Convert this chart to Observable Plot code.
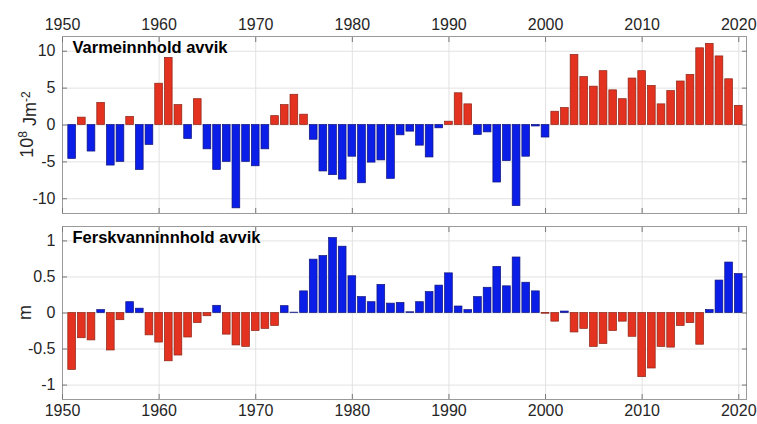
<!DOCTYPE html>
<html><head><meta charset="utf-8">
<script src="https://cdn.jsdelivr.net/npm/d3@7"></script>
<script src="https://cdn.jsdelivr.net/npm/@observablehq/plot@0.6"></script>
<style>body{margin:0;background:#fff;} #chart svg{display:block;}</style>
</head><body><div id="chart"></div>
<script>
const years = [
1951,1952,1953,1954,1955,1956,1957,1958,1959,1960,
1961,1962,1963,1964,1965,1966,1967,1968,1969,1970,
1971,1972,1973,1974,1975,1976,1977,1978,1979,1980,
1981,1982,1983,1984,1985,1986,1987,1988,1989,1990,
1991,1992,1993,1994,1995,1996,1997,1998,1999,2000,
2001,2002,2003,2004,2005,2006,2007,2008,2009,2010,
2011,2012,2013,2014,2015,2016,2017,2018,2019,2020];
const heatAnomaly = [
-4.6,1.0,-3.6,3.0,-5.5,-5.0,1.1,-6.1,-2.7,5.6,
9.1,2.7,-1.9,3.5,-3.3,-6.1,-5.0,-11.3,-5.0,-5.6,
-3.3,1.2,2.7,4.1,1.4,-2.0,-6.3,-6.8,-7.4,-4.3,
-7.9,-5.1,-4.8,-7.3,-1.4,-0.9,-2.8,-4.4,-0.45,0.45,
4.3,2.8,-1.35,-1.0,-7.8,-4.9,-11.0,-4.3,-0.2,-1.7,
1.8,2.3,9.5,6.5,5.2,7.3,4.7,3.5,6.3,7.3,
5.3,2.8,4.6,5.9,6.8,10.4,11.0,9.3,6.2,2.6];
const freshAnomaly = [
-0.79,-0.35,-0.38,0.04,-0.52,-0.10,0.15,0.06,-0.31,-0.41,
-0.67,-0.59,-0.34,-0.14,-0.045,0.10,-0.30,-0.45,-0.47,-0.25,
-0.22,-0.18,0.095,0.005,0.30,0.74,0.79,1.04,0.92,0.51,
0.22,0.15,0.39,0.13,0.14,0.01,0.15,0.29,0.38,0.55,
0.09,0.04,0.22,0.35,0.64,0.37,0.77,0.42,0.30,-0.01,
-0.12,0.02,-0.27,-0.22,-0.47,-0.43,-0.25,-0.12,-0.33,-0.89,
-0.77,-0.47,-0.48,-0.18,-0.14,-0.44,0.04,0.45,0.70,0.54];
const yearTicks = [1950,1960,1970,1980,1990,2000,2010,2020];
const heatTicks = [-10,-5,0,5,10];
const freshTicks = [-1,-0.5,0,0.5,1];
const heatTitle = "Varmeinnhold avvik";
const freshTitle = "Ferskvanninnhold avvik";

const RED = "#e3321f", RED_S = "#8c2417";
const BLUE = "#0a1ee8", BLUE_S = "#10137a";
const FONT = "'Liberation Sans', Arial, Helvetica, sans-serif";
const INK = "#262626";

function panel({values, yDomain, yTicks, title, posRed, height, marginTop, marginBottom, topLabels}) {
  const data = years.map((y, i) => ({year: y, value: values[i]}));
  const isRed = d => posRed ? d.value > 0 : d.value <= 0;
  return Plot.plot({
    width: 757, height, marginTop, marginBottom, marginLeft: 62, marginRight: 11,
    style: {fontFamily: FONT, fontSize: "16px", background: "white", color: INK},
    x: {domain: [1950, 2020.8]},
    y: {domain: yDomain},
    marks: [
      Plot.gridX(yearTicks, {stroke: "#e2e2e2", strokeOpacity: 1}),
      Plot.gridY(yTicks, {stroke: "#e2e2e2", strokeOpacity: 1}),
      Plot.rectY(data, {
        x1: d => d.year - 0.4, x2: d => d.year + 0.4, y: "value",
        fill: d => isRed(d) ? RED : BLUE,
        stroke: d => isRed(d) ? RED_S : BLUE_S,
        strokeWidth: 0.7
      }),
      Plot.frame({stroke: "#9a9a9a"}),
      Plot.axisX(yearTicks, {anchor: "top", tickSize: -5, tickFormat: () => "", stroke: "#777", label: null}),
      Plot.axisX(yearTicks, {anchor: "bottom", tickSize: -5, tickFormat: () => "", stroke: "#777", label: null}),
      Plot.axisY(yTicks, {anchor: "left", tickSize: -5, tickFormat: () => "", stroke: "#777", label: null}),
      Plot.axisY(yTicks, {anchor: "right", tickSize: -5, tickFormat: () => "", stroke: "#777", label: null}),
      Plot.axisY(yTicks, {anchor: "left", tickSize: 0, tickPadding: 7, fill: INK, fontSize: 16, tickFormat: d => String(d), label: null}),
      Plot.axisX(yearTicks, {anchor: topLabels ? "top" : "bottom", tickSize: 0, tickPadding: topLabels ? 7 : 5, fill: INK, fontSize: 16, tickFormat: d => String(d), label: null}),
      Plot.text([title], {frameAnchor: "top-left", dx: 10, dy: 5, lineAnchor: "top", fontWeight: "bold", fontSize: 16.5, fill: "#000", text: d => d})
    ]
  });
}

const topPanel = panel({values: heatAnomaly, yDomain: [-12, 12], yTicks: heatTicks, title: heatTitle, posRed: true, height: 219, marginTop: 36, marginBottom: 6, topLabels: true});
const botPanel = panel({values: freshAnomaly, yDomain: [-1.2, 1.2], yTicks: freshTicks, title: freshTitle, posRed: false, height: 205, marginTop: 7, marginBottom: 25, topLabels: false});

const l1 = d3.select(topPanel).append("text")
  .attr("transform", `translate(33,${(36+213)/2}) rotate(-90)`)
  .attr("text-anchor", "middle").attr("fill", INK)
  .style("font-family", FONT).style("font-size", "18px");
l1.append("tspan").text("10");
l1.append("tspan").attr("dy", "-0.5em").style("font-size", "12px").text("8");
l1.append("tspan").attr("dy", "0.5em").text(" Jm");
l1.append("tspan").attr("dy", "-0.5em").style("font-size", "12px").text("-2");

d3.select(botPanel).append("text")
  .attr("transform", `translate(31,${7 + (399-226)/2}) rotate(-90)`)
  .attr("text-anchor", "middle").attr("fill", INK)
  .style("font-family", FONT).style("font-size", "18px").text("m");

document.getElementById("chart").append(topPanel, botPanel);
</script>
</body></html>
